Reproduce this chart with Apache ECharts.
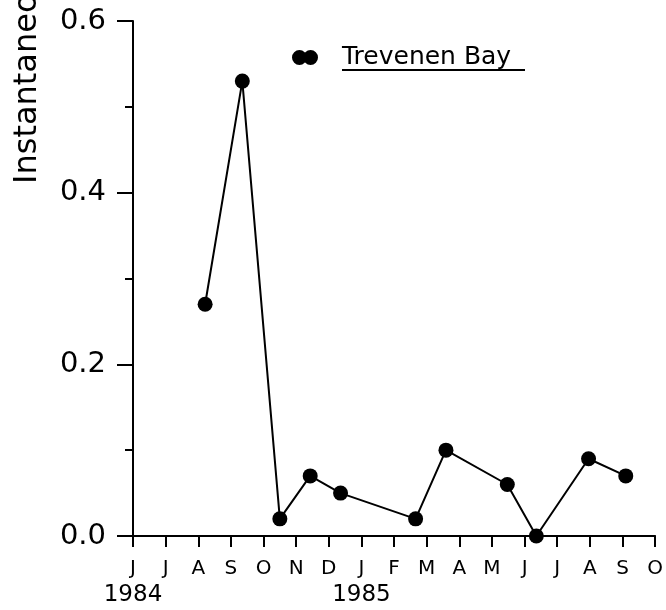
<!DOCTYPE html>
<html>
<head>
<meta charset="utf-8">
<script src="https://cdn.jsdelivr.net/npm/echarts@6/dist/echarts.min.js"></script>
<style>
  html, body { margin: 0; padding: 0; background: #fff; }
  #chart { width: 666px; height: 610px; }
</style>
</head>
<body>
<div id="chart"></div>
<script>
// Month tick letters, June 1984 through October 1985
const monthLetters = ['J', 'J', 'A', 'S', 'O', 'N', 'D', 'J', 'F', 'M', 'A', 'M', 'J', 'J', 'A', 'S', 'O'];
// Year captions placed under the month where each year is marked
const yearLabels = { 0: '1984', 7: '1985' };
// Sampling times, in months since 1 June 1984
const sampleMonths = [2.21, 3.35, 4.50, 5.43, 6.36, 8.66, 9.59, 11.47, 12.36, 13.96, 15.10];
// Instantaneous growth rate at each sampling date
const growthRates = [0.27, 0.53, 0.02, 0.07, 0.05, 0.02, 0.10, 0.06, 0.00, 0.09, 0.07];
const seriesName = 'Trevenen Bay';

const FONT = 'DejaVu Sans';
const chart = echarts.init(document.getElementById('chart'), null, { renderer: 'canvas' });

const points = sampleMonths.map((m, i) => [m, growthRates[i]]);

chart.setOption({
  backgroundColor: '#ffffff',
  animation: false,
  grid: { left: 133, right: 9, top: 21, bottom: 74, containLabel: false },
  legend: {
    left: 287,
    top: 40,
    data: [{
      name: seriesName,
      icon: 'path://M0,6a6,6 0 1,0 12,0a6,6 0 1,0 -12,0zM9,6a6,6 0 1,0 12,0a6,6 0 1,0 -12,0z'
    }],
    itemWidth: 26,
    itemHeight: 15,
    textStyle: { fontFamily: FONT, fontSize: 25, color: '#000', padding: [0, 0, 0, 19] }
  },
  xAxis: {
    type: 'value',
    min: 0,
    max: 16,
    interval: 1,
    splitLine: { show: false },
    axisLine: { onZero: false, lineStyle: { color: '#000', width: 2 } },
    axisTick: { inside: false, length: 11, lineStyle: { color: '#000', width: 2 } },
    axisLabel: {
      margin: 21,
      fontFamily: FONT,
      fontSize: 20,
      color: '#000',
      lineHeight: 25,
      formatter: function (v) {
        const i = Math.round(v);
        const m = '{m|' + monthLetters[i] + '}';
        return yearLabels[i] ? m + '\n{y|' + yearLabels[i] + '}' : m;
      },
      rich: {
        m: { fontFamily: FONT, fontSize: 20, color: '#000', lineHeight: 24 },
        y: { fontFamily: FONT, fontSize: 23, color: '#000', lineHeight: 28 }
      }
    }
  },
  yAxis: {
    type: 'value',
    min: 0,
    max: 0.6,
    interval: 0.2,
    splitLine: { show: false },
    axisLine: { lineStyle: { color: '#000', width: 2 } },
    axisTick: { inside: false, length: 16, lineStyle: { color: '#000', width: 2 } },
    minorTick: { show: true, splitNumber: 2, length: 8, lineStyle: { color: '#000', width: 2 } },
    axisLabel: {
      margin: 27,
      fontFamily: FONT,
      fontSize: 29,
      color: '#000',
      formatter: v => v.toFixed(1)
    }
  },
  series: [{
    name: seriesName,
    type: 'line',
    data: points,
    symbol: 'circle',
    symbolSize: 15,
    itemStyle: { color: '#000' },
    lineStyle: { color: '#000', width: 2 },
    emphasis: { disabled: true }
  }],
  graphic: [
    {
      // vertical axis title, reading upward
      type: 'text',
      x: 12,
      y: 184,
      rotation: Math.PI / 2,
      style: {
        text: 'Instantaneous growth rate',
        fontFamily: FONT,
        fontSize: 32,
        fill: '#000',
        textAlign: 'left',
        textVerticalAlign: 'top'
      }
    },
    {
      // underline beneath the legend caption
      type: 'line',
      shape: { x1: 342, y1: 70, x2: 525, y2: 70 },
      style: { stroke: '#000', lineWidth: 2 }
    }
  ]
});
</script>
</body>
</html>
